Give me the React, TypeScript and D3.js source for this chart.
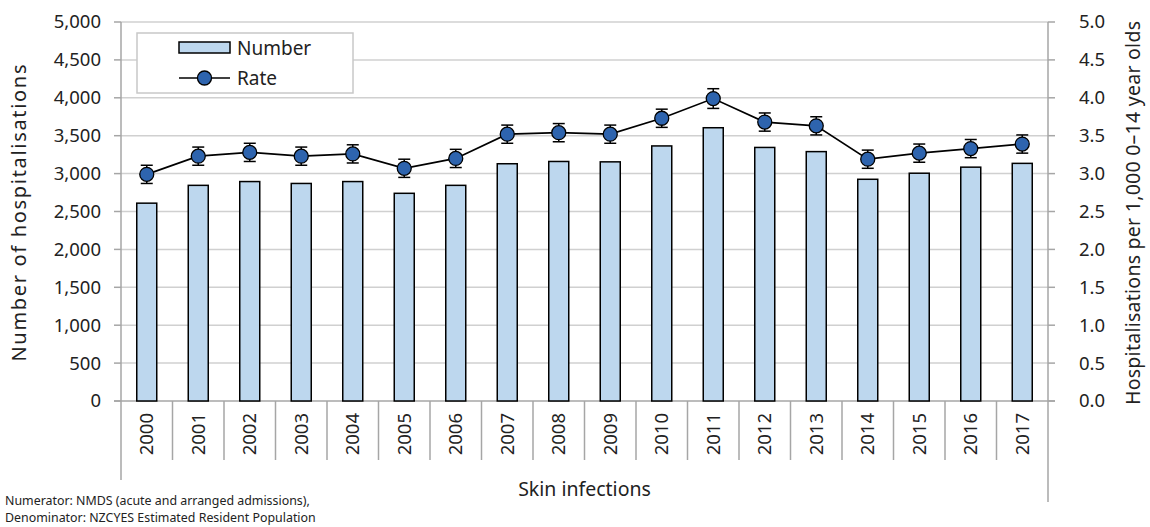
import React, { useEffect, useRef } from 'react';
import * as d3 from 'd3';

// values
const years = ['2000', '2001', '2002', '2003', '2004', '2005', '2006', '2007', '2008',
  '2009', '2010', '2011', '2012', '2013', '2014', '2015', '2016', '2017'];
const numbers = [2610, 2845, 2895, 2870, 2895, 2740, 2845, 3130, 3160,
  3155, 3365, 3605, 3345, 3290, 2925, 3005, 3085, 3135];
const rates = [2.99, 3.23, 3.28, 3.23, 3.26, 3.07, 3.20, 3.52, 3.54,
  3.52, 3.73, 3.99, 3.68, 3.63, 3.19, 3.27, 3.33, 3.39];
const rateLow = [2.87, 3.11, 3.16, 3.11, 3.14, 2.95, 3.08, 3.40, 3.42,
  3.40, 3.61, 3.86, 3.56, 3.51, 3.07, 3.15, 3.21, 3.27];
const rateHigh = [3.11, 3.35, 3.40, 3.35, 3.38, 3.19, 3.32, 3.64, 3.66,
  3.64, 3.85, 4.12, 3.80, 3.75, 3.31, 3.39, 3.45, 3.51];
const leftTicks = [0, 500, 1000, 1500, 2000, 2500, 3000, 3500, 4000, 4500, 5000];
const rightTicks = [0, 0.5, 1, 1.5, 2, 2.5, 3, 3.5, 4, 4.5, 5];

const W = 1150;
const H = 527;
const margin = { top: 22, right: 102, bottom: 126, left: 121 };
const FONT = '"Segoe UI", "Noto Sans", sans-serif';
const AXIS = '#a6a6a6';
const GRID = '#d0d0d0';
const BAR = '#bdd7ee';
const DOT = '#2e64ae';

const App: React.FC = () => {
  const svgRef = useRef<SVGSVGElement>(null);

  useEffect(() => {
    if (!svgRef.current) return;
    const svg = d3.select(svgRef.current);
    svg.selectAll('*').remove();

    const x0 = margin.left;
    const x1 = W - margin.right;
    const y0 = H - margin.bottom;
    const y1 = margin.top;

    const x = d3.scaleBand().domain(years).range([x0, x1]);
    const yL = d3.scaleLinear().domain([0, 5000]).range([y0, y1]);
    const yR = d3.scaleLinear().domain([0, 5]).range([y0, y1]);
    const fmtL = d3.format(',');
    const fmtR = d3.format('.1f');

    // gridlines
    svg.append('g').selectAll('line').data(leftTicks.slice(1)).enter().append('line')
      .attr('x1', x0).attr('x2', x1)
      .attr('y1', d => yL(d)).attr('y2', d => yL(d))
      .attr('stroke', GRID).attr('stroke-width', 1.5);

    // left axis
    const gl = svg.append('g');
    gl.append('line').attr('x1', x0).attr('x2', x0).attr('y1', y1).attr('y2', 480)
      .attr('stroke', AXIS).attr('stroke-width', 1.5);
    gl.selectAll('.tk').data(leftTicks).enter().append('line')
      .attr('x1', x0 - 7).attr('x2', x0)
      .attr('y1', d => yL(d)).attr('y2', d => yL(d))
      .attr('stroke', AXIS).attr('stroke-width', 1.5);
    gl.selectAll('text').data(leftTicks).enter().append('text')
      .attr('x', x0 - 20).attr('y', d => yL(d)).attr('dy', '0.35em')
      .attr('text-anchor', 'end').style('font-family', FONT).style('font-size', '18.5px')
      .attr('fill', '#222').text(d => fmtL(d));

    // right axis
    const gr = svg.append('g');
    gr.append('line').attr('x1', x1).attr('x2', x1).attr('y1', y1).attr('y2', 502)
      .attr('stroke', AXIS).attr('stroke-width', 1.5);
    gr.selectAll('.tk').data(rightTicks).enter().append('line')
      .attr('x1', x1).attr('x2', x1 + 7)
      .attr('y1', d => yR(d)).attr('y2', d => yR(d))
      .attr('stroke', AXIS).attr('stroke-width', 1.5);
    gr.selectAll('text').data(rightTicks).enter().append('text')
      .attr('x', x1 + 31).attr('y', d => yR(d)).attr('dy', '0.35em')
      .attr('text-anchor', 'start').style('font-family', FONT).style('font-size', '18.5px')
      .attr('fill', '#222').text(d => fmtR(d));

    // category axis
    const gx = svg.append('g');
    gx.append('line').attr('x1', x0 - 7).attr('x2', x1 + 7).attr('y1', y0).attr('y2', y0)
      .attr('stroke', AXIS).attr('stroke-width', 1.5);
    gx.selectAll('.sep').data(years.slice(1)).enter().append('line')
      .attr('x1', d => x(d)!).attr('x2', d => x(d)!)
      .attr('y1', y0).attr('y2', 460)
      .attr('stroke', AXIS).attr('stroke-width', 1.5);
    gx.selectAll('text').data(years).enter().append('text')
      .attr('transform', d => `translate(${x(d)! + x.bandwidth() / 2},${y0 + 12}) rotate(-90)`)
      .attr('dy', '0.35em').attr('text-anchor', 'end')
      .style('font-family', FONT).style('font-size', '18.5px').attr('fill', '#222')
      .text(d => d);

    // bars
    const bw = 20;
    svg.append('g').selectAll('rect').data(numbers).enter().append('rect')
      .attr('x', (d, i) => x(years[i])! + x.bandwidth() / 2 - bw / 2)
      .attr('y', d => yL(d))
      .attr('width', bw)
      .attr('height', d => y0 - yL(d))
      .attr('fill', BAR).attr('stroke', '#000').attr('stroke-width', 1.5);

    // rate line
    const cx = (i: number) => x(years[i])! + x.bandwidth() / 2;
    const line = d3.line<number>().x((d, i) => cx(i)).y(d => yR(d));
    svg.append('path').datum(rates).attr('d', line)
      .attr('fill', 'none').attr('stroke', '#000').attr('stroke-width', 1.7);

    // error bars
    const ge = svg.append('g').attr('stroke', '#000').attr('stroke-width', 1.5);
    rates.forEach((r, i) => {
      ge.append('line').attr('x1', cx(i)).attr('x2', cx(i))
        .attr('y1', yR(rateLow[i])).attr('y2', yR(rateHigh[i]));
      [rateLow[i], rateHigh[i]].forEach(v => {
        ge.append('line').attr('x1', cx(i) - 6).attr('x2', cx(i) + 6)
          .attr('y1', yR(v)).attr('y2', yR(v));
      });
    });

    svg.append('g').selectAll('circle').data(rates).enter().append('circle')
      .attr('cx', (d, i) => cx(i)).attr('cy', d => yR(d)).attr('r', 7)
      .attr('fill', DOT).attr('stroke', '#000').attr('stroke-width', 1.3);

    // legend
    const lg = svg.append('g');
    lg.append('rect').attr('x', 137).attr('y', 33).attr('width', 216).attr('height', 60)
      .attr('fill', '#fff').attr('stroke', '#c8c8c8').attr('stroke-width', 1.5);
    lg.append('rect').attr('x', 179).attr('y', 42).attr('width', 51).attr('height', 11)
      .attr('fill', BAR).attr('stroke', '#000').attr('stroke-width', 1.5);
    lg.append('text').attr('x', 237).attr('y', 48).attr('dy', '0.35em')
      .style('font-family', FONT).style('font-size', '19px').attr('fill', '#222').text('Number');
    lg.append('line').attr('x1', 179).attr('x2', 230).attr('y1', 78).attr('y2', 78)
      .attr('stroke', '#000').attr('stroke-width', 1.7);
    lg.append('circle').attr('cx', 204.5).attr('cy', 78).attr('r', 7)
      .attr('fill', DOT).attr('stroke', '#000').attr('stroke-width', 1.3);
    lg.append('text').attr('x', 237).attr('y', 78).attr('dy', '0.35em')
      .style('font-family', FONT).style('font-size', '19px').attr('fill', '#222').text('Rate');

    // axis titles
    svg.append('text')
      .attr('transform', `translate(26,213) rotate(-90)`)
      .attr('text-anchor', 'middle')
      .attr('textLength', 297).attr('lengthAdjust', 'spacing')
      .style('font-family', FONT).style('font-size', '20px').attr('fill', '#222')
      .text('Number of hospitalisations');
    svg.append('text')
      .attr('transform', `translate(1140,213) rotate(-90)`)
      .attr('text-anchor', 'middle')
      .attr('textLength', 384).attr('lengthAdjust', 'spacing')
      .style('font-family', FONT).style('font-size', '19.5px').attr('fill', '#222')
      .text('Hospitalisations per 1,000 0–14 year olds');
    svg.append('text')
      .attr('x', (x0 + x1) / 2).attr('y', 496)
      .attr('text-anchor', 'middle')
      .style('font-family', FONT).style('font-size', '19.5px').attr('fill', '#222')
      .text('Skin infections');

    // footnote
    const fn = svg.append('text').style('font-family', FONT).style('font-size', '12.4px').attr('fill', '#222');
    fn.append('tspan').attr('x', 5).attr('y', 505).text('Numerator: NMDS (acute and arranged admissions),');
    fn.append('tspan').attr('x', 5).attr('y', 522).text('Denominator: NZCYES Estimated Resident Population');
  }, []);

  return (
    <svg
      ref={svgRef}
      width={W}
      height={H}
      viewBox={`0 0 ${W} ${H}`}
      style={{ position: 'absolute', left: 0, top: 0, background: '#fff' }}
    />
  );
};

export default App;
